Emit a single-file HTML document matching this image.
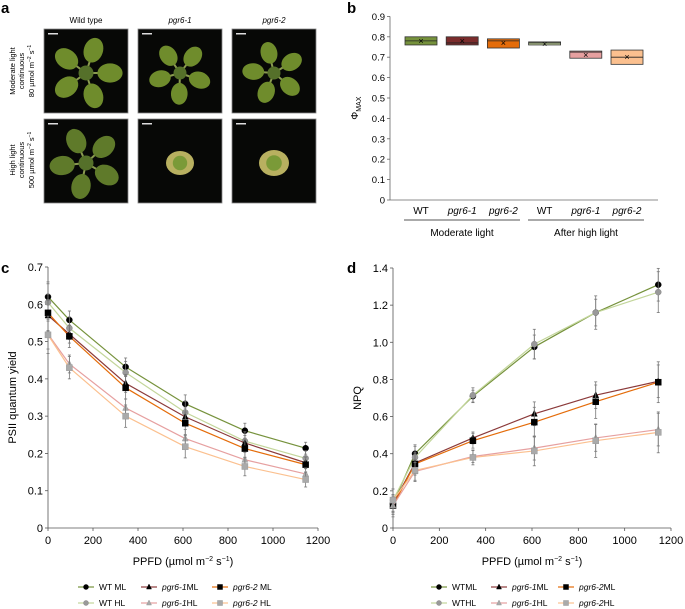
<!DOCTYPE html>
<html><head><meta charset="utf-8"><style>
body{margin:0;background:#fff;}
svg{display:block;font-family:"Liberation Sans",sans-serif;}
</style></head><body>
<svg id="fig" width="685" height="609" viewBox="0 0 685 609">
<g>
<text x="1" y="13" font-size="15" font-weight="bold">a</text>
<text x="86" y="23" font-size="8" text-anchor="middle">Wild type</text>
<text x="180" y="23" font-size="8" text-anchor="middle" font-style="italic">pgr6-1</text>
<text x="274" y="23" font-size="8" text-anchor="middle" font-style="italic">pgr6-2</text>
<g font-size="7.5" text-anchor="middle">
<text transform="translate(15,71) rotate(-90)">Moderate light</text>
<text transform="translate(24,71) rotate(-90)">continuous</text>
<text transform="translate(34,71) rotate(-90)">80 µmol m<tspan font-size="5" dy="-3">−2</tspan><tspan dy="3"> s</tspan><tspan font-size="5" dy="-3">−1</tspan></text>
</g>
<g font-size="7.5" text-anchor="middle">
<text transform="translate(15,160) rotate(-90)">High light</text>
<text transform="translate(24,160) rotate(-90)">continuous</text>
<text transform="translate(34,160) rotate(-90)">500 µmol m<tspan font-size="5" dy="-3">−2</tspan><tspan dy="3"> s</tspan><tspan font-size="5" dy="-3">−1</tspan></text>
</g>
<g id="photos"></g>
</g>
<g id="pb"></g>
<g id="pc"></g>
<g id="pd"></g>
</svg>
<script>
// ---------- Panel b data ----------
const bCategories = ["WT","pgr6-1","pgr6-2","WT","pgr6-1","pgr6-2"];
const bLow = [0.76,0.76,0.745,0.76,0.695,0.665];
const bHigh = [0.80,0.80,0.79,0.775,0.73,0.735];
const bMedian = [0.78,0.77,0.78,0.77,0.725,0.70];
const bMean = [0.78,0.78,0.77,0.765,0.71,0.70];
const bTicks = [0,0.1,0.2,0.3,0.4,0.5,0.6,0.7,0.8,0.9];
const bGroups = ["Moderate light","After high light"];
// ---------- Panel c/d data ----------
const ppfd = [0,95,345,610,875,1145];
const seriesNames = ["WT ML","WT HL","pgr6-1 ML","pgr6-2 ML","pgr6-1 HL","pgr6-2 HL"];
const cWTML = [0.62,0.558,0.432,0.333,0.261,0.214];
const cWTHL = [0.605,0.536,0.417,0.31,0.233,0.187];
const cP1ML = [0.57,0.52,0.388,0.298,0.228,0.175];
const cP2ML = [0.577,0.514,0.376,0.281,0.213,0.17];
const cP1HL = [0.52,0.44,0.322,0.24,0.183,0.145];
const cP2HL = [0.518,0.43,0.30,0.218,0.165,0.13];
const cErr = [0.05,0.03,0.03,0.03,0.025,0.02];
const dWTML = [0.13,0.40,0.71,0.975,1.16,1.31];
const dWTHL = [0.15,0.38,0.715,0.99,1.16,1.27];
const dP1ML = [0.13,0.35,0.485,0.615,0.715,0.79];
const dP2ML = [0.12,0.345,0.47,0.57,0.68,0.785];
const dP1HL = [0.12,0.305,0.385,0.43,0.485,0.53];
const dP2HL = [0.15,0.31,0.38,0.415,0.47,0.515];
const dErr = [0.06,0.06,0.04,0.08,0.09,0.11];
const cTicks = [0,0.1,0.2,0.3,0.4,0.5,0.6,0.7];
const dTicks = [0,0.2,0.4,0.6,0.8,1.0,1.2,1.4];
const xTicks = [0,200,400,600,800,1000,1200];

const NS="http://www.w3.org/2000/svg";
function mk(parent,tag,attrs,text){const e=document.createElementNS(NS,tag);for(const k in attrs)e.setAttribute(k,attrs[k]);if(text!==undefined)e.textContent=text;parent.appendChild(e);return e;}

// ---------- Photos ----------
const photos=document.getElementById('photos');
const pcols=[44,138,232], prows=[29,119];
const plantSizes=[[30,26,26],[30,12,13]];
prows.forEach((py,r)=>pcols.forEach((px,c)=>{
  const g=mk(photos,'g',{});
  
  
  mk(g,'rect',{x:px,y:py,width:84,height:84,fill:'#070806',stroke:'#888','stroke-width':0.8});
  mk(g,'rect',{x:px+4,y:py+4,width:10,height:1.5,fill:'#ddd'});
  const cx=px+42,cy=py+44,s=plantSizes[r][c];
  if(s>20){
    for(let i=0;i<5;i++){const a=i*72+(c*20)+r*30;const rad=a*Math.PI/180;
      const ex=cx+Math.cos(rad)*s*0.8, ey=cy+Math.sin(rad)*s*0.8;
      mk(g,'line',{x1:cx,y1:cy,x2:ex,y2:ey,stroke:'#8a9a50','stroke-width':2});
      mk(g,'ellipse',{cx:ex,cy:ey,rx:s*0.42,ry:s*0.32,fill:r==0?'#6f8c2c':'#5f7a2a',transform:`rotate(${a} ${ex} ${ey})`});}
    mk(g,'circle',{cx:cx,cy:cy,r:s*0.25,fill:'#55702a'});
  } else {
    mk(g,'ellipse',{cx:cx,cy:cy,rx:s+2,ry:s,fill:'#b8b060'});
    mk(g,'circle',{cx:cx,cy:cy,r:s*0.6,fill:'#7a9a38'});
  }
}));

// ---------- Panel b ----------
(function(){
const g=document.getElementById('pb');
const X0=390,X1=658,Y0=200,Ypu=204;
const y=v=>Y0-v*Ypu;
const fills=['#76923c','#7b2c2c','#e46c0a','#c3d69b','#e6a0a0','#fbc08f'];
mk(g,'text',{x:347,y:13,'font-size':15,'font-weight':'bold'},'b');
const yt=mk(g,'text',{transform:`translate(358,${y(0.45)}) rotate(-90)`,'font-size':10,'text-anchor':'middle'});
yt.innerHTML='Φ<tspan font-size="7" dy="3">MAX</tspan>';


mk(g,'line',{x1:X0,y1:y(0.9),x2:X0,y2:Y0,stroke:'#666','stroke-width':0.8});
mk(g,'line',{x1:X0,y1:Y0,x2:X1,y2:Y0,stroke:'#666','stroke-width':0.8});
bTicks.forEach(t=>{
  mk(g,'line',{x1:X0-3,y1:y(t),x2:X0,y2:y(t),stroke:'#666','stroke-width':0.8});
  const tx=mk(g,'text',{x:X0-5,y:y(t)+3.5,'font-size':9.5,'text-anchor':'end'},String(t));
  
  
});
const cx=i=>421+i*41.2;
bCategories.forEach((c,i)=>{
  const bw=32;
  const b=mk(g,'rect',{x:cx(i)-bw/2,y:y(bHigh[i]),width:bw,height:y(bLow[i])-y(bHigh[i]),fill:fills[i],stroke:'#333','stroke-width':0.8});
  
  
  mk(g,'line',{x1:cx(i)-bw/2,y1:y(bMedian[i]),x2:cx(i)+bw/2,y2:y(bMedian[i]),stroke:'#222','stroke-width':0.8});
  mk(g,'text',{x:cx(i),y:y(bMean[i])+3,'font-size':9,'text-anchor':'middle'},'×');
  const l=mk(g,'text',{x:cx(i),y:214,'font-size':10,'text-anchor':'middle','font-style':c=='WT'?'normal':'italic'},c);
  
  
});
[[404,520],[528,644]].forEach((r,i)=>{
  mk(g,'line',{x1:r[0],y1:220,x2:r[1],y2:220,stroke:'#555','stroke-width':1});
  const t=mk(g,'text',{x:(r[0]+r[1])/2,y:236,'font-size':10,'text-anchor':'middle'},bGroups[i]);
  
  
});
})();

// ---------- Line charts ----------
const styles=[
 {line:'#76923c',mfill:'#000',mstroke:'#000',shape:'circle'},
 {line:'#c3d69b',mfill:'#999',mstroke:'#888',shape:'circle'},
 {line:'#8b3a3a',mfill:'#000',mstroke:'#000',shape:'tri'},
 {line:'#e46c0a',mfill:'#000',mstroke:'#000',shape:'square'},
 {line:'#e6a0a0',mfill:'#aaa',mstroke:'#999',shape:'tri'},
 {line:'#fbc08f',mfill:'#aaa',mstroke:'#999',shape:'square'}];
function marker(g,shape,x,y,st,s){
  let m;
  if(shape=='circle')m=mk(g,'circle',{cx:x,cy:y,r:s,fill:st.mfill,stroke:st.mstroke,'stroke-width':0.5});
  else if(shape=='square')m=mk(g,'rect',{x:x-s,y:y-s,width:2*s,height:2*s,fill:st.mfill,stroke:st.mstroke,'stroke-width':0.5});
  else m=mk(g,'polygon',{points:`${x},${y-s-0.5} ${x-s},${y+s-0.5} ${x+s},${y+s-0.5}`,fill:st.mfill,stroke:st.mstroke,'stroke-width':0.5});
  return m;
}
function lineChart(gid,letter,X0,X1,Y0,Ytop,ymax,ticks,tickFmt,ytitle,series,err,legend){
  const g=document.getElementById(gid);
  const x=v=>X0+v/1200*(X1-X0);
  const y=v=>Y0-v/ymax*(Y0-Ytop);
  mk(g,'text',{x:letter[1],y:letter[2],'font-size':15,'font-weight':'bold'},letter[0]);
  mk(g,'line',{x1:X0,y1:Ytop,x2:X0,y2:Y0,stroke:'#555','stroke-width':0.8});
  mk(g,'line',{x1:X0,y1:Y0,x2:X1,y2:Y0,stroke:'#555','stroke-width':0.8});
  ticks.forEach(t=>{
    mk(g,'line',{x1:X0-3,y1:y(t),x2:X0,y2:y(t),stroke:'#555','stroke-width':0.8});
    const tx=mk(g,'text',{x:X0-5,y:y(t)+4,'font-size':11,'text-anchor':'end'},tickFmt(t));
    
    
  });
  xTicks.forEach(t=>{
    mk(g,'line',{x1:x(t),y1:Y0,x2:x(t),y2:Y0+3,stroke:'#555','stroke-width':0.8});
    const tx=mk(g,'text',{x:x(t),y:Y0+16,'font-size':11,'text-anchor':'middle'},String(t));
    
    
  });
  const xt=mk(g,'text',{x:(X0+X1)/2,y:Y0+37,'font-size':11,'text-anchor':'middle'});
  xt.innerHTML='PPFD (µmol m<tspan font-size="7" dy="-4">−2</tspan><tspan dy="4"> s</tspan><tspan font-size="7" dy="-4">−1</tspan><tspan dy="4">)</tspan>';
  
  
  const yt=mk(g,'text',{transform:`translate(${X0-32},${(Y0+Ytop)/2}) rotate(-90)`,'font-size':11,'text-anchor':'middle'},ytitle);
  
  
  series.forEach((vals,si)=>{
    const st=styles[si];
    const pl=mk(g,'polyline',{points:vals.map((v,i)=>x(ppfd[i])+','+y(v)).join(' '),fill:'none',stroke:st.line,'stroke-width':1.2});
    
    
    vals.forEach((v,i)=>{
      const e=err[i]*(si%2?1:0.8);
      mk(g,'line',{x1:x(ppfd[i]),y1:y(v-e),x2:x(ppfd[i]),y2:y(v+e),stroke:'#777','stroke-width':0.8});
      mk(g,'line',{x1:x(ppfd[i])-1.5,y1:y(v+e),x2:x(ppfd[i])+1.5,y2:y(v+e),stroke:'#777','stroke-width':0.8});
      mk(g,'line',{x1:x(ppfd[i])-1.5,y1:y(v-e),x2:x(ppfd[i])+1.5,y2:y(v-e),stroke:'#777','stroke-width':0.8});
      const m=marker(g,st.shape,x(ppfd[i]),y(v),st,3);
      
      
    });
  });
  legend.forEach((L,i)=>{
    const st=styles[L.s];
    const lg=mk(g,'g',{});
    
    
    mk(lg,'line',{x1:L.x,y1:L.y,x2:L.x+16,y2:L.y,stroke:st.line,'stroke-width':1.2});
    marker(lg,st.shape,L.x+8,L.y,st,2.5);
    const t=mk(lg,'text',{x:L.x+21,y:L.y+3,'font-size':8.5});
    t.innerHTML=L.html;
  });
}
lineChart('pc',['c',1,273],48,318,528,267,0.7,cTicks,t=>t===0?'0':t.toFixed(1),'PSII quantum yield',
 [cWTML,cWTHL,cP1ML,cP2ML,cP1HL,cP2HL],cErr,
 [{s:0,x:78,y:587,html:'WT ML'},{s:1,x:78,y:603,html:'WT HL'},
  {s:2,x:141,y:587,html:'<tspan font-style="italic">pgr6-1</tspan>ML'},{s:4,x:141,y:603,html:'<tspan font-style="italic">pgr6-1</tspan>HL'},
  {s:3,x:212,y:587,html:'<tspan font-style="italic">pgr6-2</tspan> ML'},{s:5,x:212,y:603,html:'<tspan font-style="italic">pgr6-2</tspan> HL'}]);
lineChart('pd',['d',347,273],393,671,528,268,1.4,dTicks,t=>t===0?'0':t.toFixed(1),'NPQ',
 [dWTML,dWTHL,dP1ML,dP2ML,dP1HL,dP2HL],dErr,
 [{s:0,x:431,y:587,html:'WTML'},{s:1,x:431,y:603,html:'WTHL'},
  {s:2,x:491,y:587,html:'<tspan font-style="italic">pgr6-1</tspan>ML'},{s:4,x:491,y:603,html:'<tspan font-style="italic">pgr6-1</tspan>HL'},
  {s:3,x:558,y:587,html:'<tspan font-style="italic">pgr6-2</tspan>ML'},{s:5,x:558,y:603,html:'<tspan font-style="italic">pgr6-2</tspan>HL'}]);
</script>
</body></html>
